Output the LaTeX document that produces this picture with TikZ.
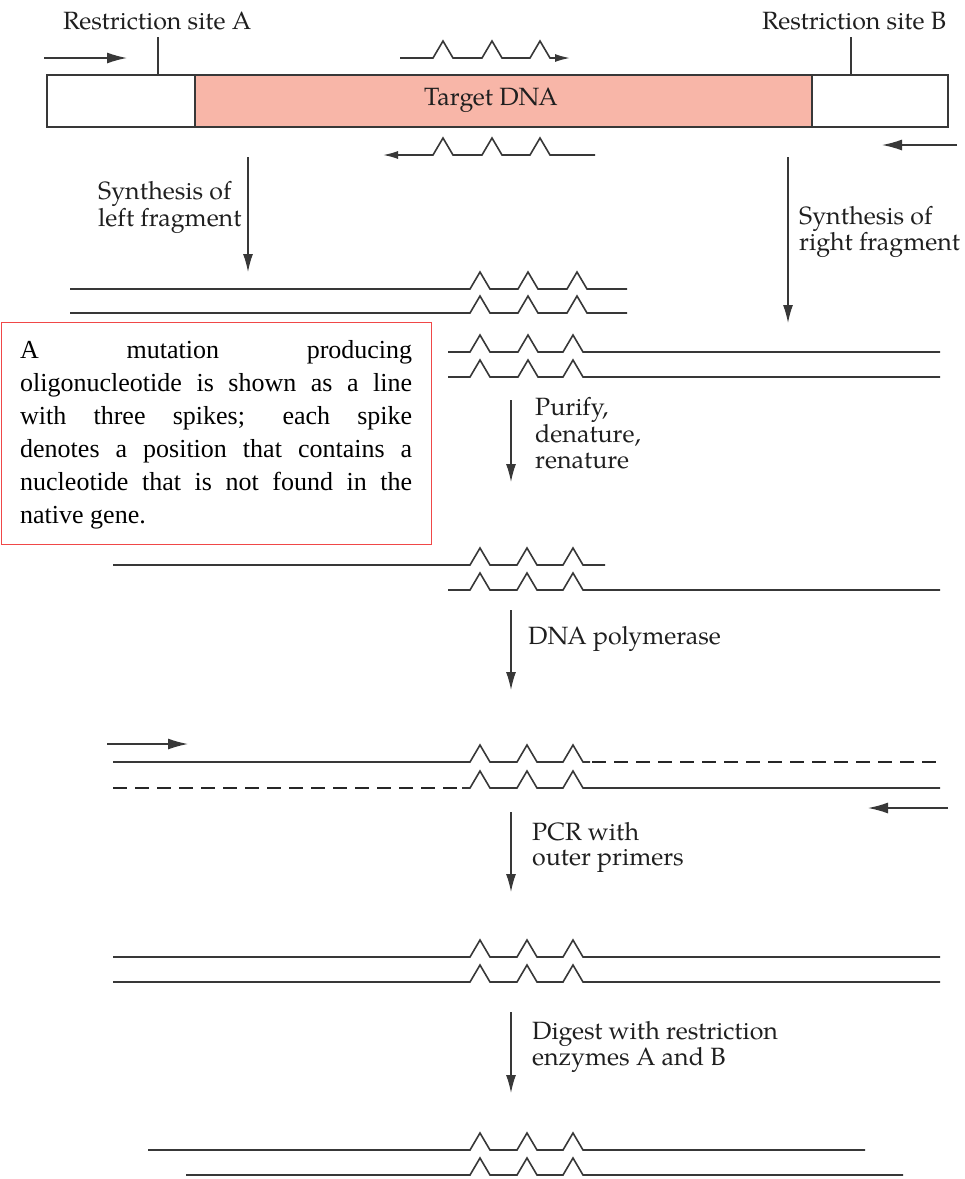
\documentclass[tikz,border=0pt]{standalone}
\usepackage{fontspec}
\setmainfont{texgyrepagella-regular.otf}
\newfontfamily\notefont{Liberation Serif}
\usetikzlibrary{arrows.meta}
\definecolor{ink}{HTML}{383838}
\definecolor{target}{HTML}{F8B6A8}
\definecolor{notered}{HTML}{F04848}
\begin{document}
\begin{tikzpicture}[x=1pt,y=-1pt,
  strand/.style={draw=ink,line width=1.6pt},
  spike/.style={insert path={-- ++(10,-17) -- ++(10,17)}},
  dstrand/.style={draw=black!85,line width=2.6pt,dash pattern=on 14pt off 8pt},
  flow/.style={draw=ink,line width=1.4pt,-{Latex[length=18pt,width=10pt]}},
  primer/.style={draw=ink,line width=1.4pt,-{Latex[length=20pt,width=11pt]}},
  oligo/.style={draw=ink,line width=1.6pt},
  lbl/.style={anchor=base west,inner sep=0pt,font=\fontsize{25}{28}\selectfont,text=black!88},
]
\useasboundingbox (0,0) rectangle (965,1179);

% ---- target DNA with flanking regions ----
\fill[target] (195,75) rectangle (812,127);
\draw[draw=ink,line width=1.5pt] (47,75) rectangle (948,127);
\draw[draw=ink,line width=1.5pt] (195,75) -- (195,127) (812,75) -- (812,127);
\node[lbl,anchor=base] (tdna) at (491,105) {Target DNA};

\node[lbl] (siteA) at (63,29) {Restriction site A};
\node[lbl] (siteB) at (762,29) {Restriction site B};
\coordinate (tickA) at (158,37);  \coordinate (tickAb) at (158,75);
\coordinate (tickB) at (851,37);  \coordinate (tickBb) at (851,75);
\draw[draw=ink,line width=1.4pt] (tickA) -- (tickAb) (tickB) -- (tickBb);

% outer primers
\coordinate (p1s) at (44,58);  \coordinate (p1e) at (127,58);
\coordinate (p2s) at (957,145); \coordinate (p2e) at (882,145);
\draw[primer] (p1s) -- (p1e);
\draw[primer] (p2s) -- (p2e);

% mutagenic oligonucleotides
\draw[oligo,-{Latex[length=15pt,width=8pt]}] (400,58) -- (433,58) [spike] -- (482,58) [spike] -- (530,58) [spike] -- (570,58);
\draw[oligo,{Latex[length=15pt,width=8pt]}-] (383,155) -- (433,155) [spike] -- (482,155) [spike] -- (530,155) [spike] -- (595,155);

% ---- synthesis of fragments ----
\coordinate (s1a) at (248,157); \coordinate (s1b) at (248,272);
\draw[flow] (s1a) -- (s1b);
\node[lbl] (synL1) at (98,199) {Synthesis of};
\node[lbl] (synL2) at (98,226) {left fragment};

\coordinate (s2a) at (788,157); \coordinate (s2b) at (788,323);
\draw[flow] (s2a) -- (s2b);
\node[lbl] (synR1) at (799,224) {Synthesis of};
\node[lbl] (synR2) at (799,250) {right fragment};

\draw[strand] (70,289) -- (470,289) [spike] -- (518,289) [spike] -- (567,289) [spike] -- (627,289);
\draw[strand] (70,313) -- (470,313) [spike] -- (518,313) [spike] -- (567,313) [spike] -- (627,313);
\draw[strand] (448,352) -- (470,352) [spike] -- (518,352) [spike] -- (563,352) [spike] -- (940,352);
\draw[strand] (448,377) -- (470,377) [spike] -- (518,377) [spike] -- (563,377) [spike] -- (940,377);

% ---- explanatory note ----
\node[draw=notered,line width=1.4pt,inner sep=0pt,minimum width=430pt,minimum height=222pt,anchor=north west] (notebox) at (1,322) {};
\node[anchor=north west,inner sep=0pt,text width=392pt,align=justify,text=black,
      font=\notefont\fontsize{26}{33}\selectfont] (note) at (20,340)
  {A mutation producing\linebreak oligonucleotide is shown as a line\linebreak with three spikes; each spike\linebreak denotes a position that contains a\linebreak nucleotide that is not found in the\linebreak native gene.};

% ---- purify, denature, renature ----
\coordinate (s3a) at (511,400); \coordinate (s3b) at (511,482);
\draw[flow] (s3a) -- (s3b);
\node[lbl] (pur1) at (535,415) {Purify,};
\node[lbl] (pur2) at (535,442) {denature,};
\node[lbl] (pur3) at (535,468) {renature};

\draw[strand] (113,565) -- (470,565) [spike] -- (517,565) [spike] -- (563,565) [spike] -- (605,565);
\draw[strand] (448,590) -- (470,590) [spike] -- (517,590) [spike] -- (563,590) [spike] -- (940,590);

% ---- DNA polymerase ----
\coordinate (s4a) at (511,610); \coordinate (s4b) at (511,690);
\draw[flow] (s4a) -- (s4b);
\node[lbl] (pol) at (528,644) {DNA polymerase};

\coordinate (p3s) at (107,744); \coordinate (p3e) at (188,744);
\coordinate (p4s) at (948,808); \coordinate (p4e) at (868,808);
\draw[primer] (p3s) -- (p3e);
\draw[primer] (p4s) -- (p4e);

\draw[strand] (113,762) -- (470,762) [spike] -- (517,762) [spike] -- (563,762) [spike] -- (590,762);
\draw[dstrand] (592,762) -- (940,762);
\draw[dstrand] (113,788) -- (462,788);
\draw[strand] (462,788) -- (470,788) [spike] -- (517,788) [spike] -- (563,788) [spike] -- (940,788);

% ---- PCR with outer primers ----
\coordinate (s5a) at (511,812); \coordinate (s5b) at (511,892);
\draw[flow] (s5a) -- (s5b);
\node[lbl] (pcr1) at (532,840) {PCR with};
\node[lbl] (pcr2) at (532,865) {outer primers};

\draw[strand] (113,957) -- (470,957) [spike] -- (517,957) [spike] -- (563,957) [spike] -- (940,957);
\draw[strand] (113,982) -- (470,982) [spike] -- (517,982) [spike] -- (563,982) [spike] -- (940,982);

% ---- restriction digest ----
\coordinate (s6a) at (511,1012); \coordinate (s6b) at (511,1093);
\draw[flow] (s6a) -- (s6b);
\node[lbl] (dig1) at (532,1039) {Digest with restriction};
\node[lbl] (dig2) at (532,1065) {enzymes A and B};

\draw[strand] (148,1150) -- (470,1150) [spike] -- (517,1150) [spike] -- (563,1150) [spike] -- (865,1150);
\draw[strand] (186,1175) -- (470,1175) [spike] -- (517,1175) [spike] -- (563,1175) [spike] -- (903,1175);
\end{tikzpicture}
\end{document}
